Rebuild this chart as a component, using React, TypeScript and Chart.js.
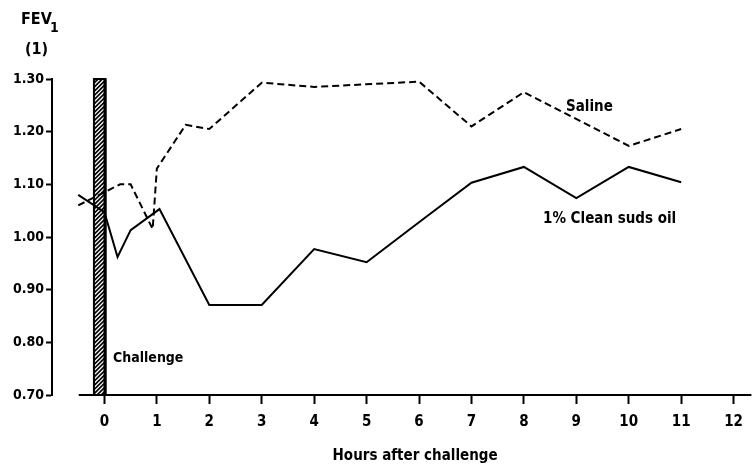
import React, { useEffect, useRef } from "react";
import { Chart, registerables } from "chart.js";

Chart.register(...registerables);

// ---- data ----
const hourTicks = [0, 1, 2, 3, 4, 5, 6, 7, 8, 9, 10, 11, 12];
const fevTicks = [0.7, 0.8, 0.9, 1.0, 1.1, 1.2, 1.3];

const salineHours = [-0.5, 0.3, 0.5, 0.92, 1.0, 1.55, 2.0, 3.0, 4.0, 6.0, 7.0, 8.0, 10.0, 11.0];
const salineFev = [1.06, 1.1, 1.1, 1.015, 1.13, 1.213, 1.205, 1.293, 1.285, 1.295, 1.21, 1.275, 1.173, 1.205];

const sudsHours = [-0.5, 0.0, 0.25, 0.5, 1.05, 2.0, 3.0, 4.0, 5.0, 6.0, 7.0, 8.0, 9.0, 10.0, 11.0];
const sudsFev = [1.08, 1.047, 0.962, 1.013, 1.053, 0.871, 0.871, 0.977, 0.952, 1.028, 1.103, 1.133, 1.074, 1.133, 1.104];

const challengeStart = -0.2;
const challengeEnd = 0.02;
const axisStartHour = -0.49;
const xMin = -1.0;
const xMax = 12.34;

const FONT = "'DejaVu Sans Condensed', 'DejaVu Sans', sans-serif";

const annotate = {
  id: "annotate",
  beforeDatasetsDraw(chart: any) {
    const { ctx, scales } = chart;
    const x = scales.x;
    const y = scales.y;
    const x0 = x.getPixelForValue(challengeStart);
    const x1 = x.getPixelForValue(challengeEnd);
    const top = y.getPixelForValue(1.3);
    const bot = y.getPixelForValue(0.7);
    ctx.save();
    ctx.fillStyle = "#fff";
    ctx.fillRect(x0, top, x1 - x0, bot - top);
    ctx.beginPath();
    ctx.rect(x0, top, x1 - x0, bot - top);
    ctx.clip();
    ctx.strokeStyle = "#000";
    ctx.lineWidth = 1.7;
    for (let yy = top - 20; yy < bot + 20; yy += 4.2) {
      ctx.beginPath();
      ctx.moveTo(x0, yy + (x1 - x0));
      ctx.lineTo(x1, yy);
      ctx.stroke();
    }
    ctx.restore();
    ctx.save();
    ctx.strokeStyle = "#000";
    ctx.lineWidth = 2;
    ctx.strokeRect(x0, top, x1 - x0, bot - top);
    ctx.lineWidth = 3;
    ctx.beginPath();
    ctx.moveTo(x1 - 0.5, top);
    ctx.lineTo(x1 - 0.5, bot);
    ctx.stroke();
    ctx.restore();
  },
  afterDraw(chart: any) {
    const { ctx, scales } = chart;
    const x = scales.x;
    const y = scales.y;
    const base = y.getPixelForValue(0.7);
    ctx.save();
    // x axis line
    ctx.strokeStyle = "#000";
    ctx.lineWidth = 2;
    ctx.beginPath();
    ctx.moveTo(x.getPixelForValue(axisStartHour), base);
    ctx.lineTo(x.getPixelForValue(xMax), base);
    ctx.stroke();

    ctx.fillStyle = "#000";
    ctx.textBaseline = "alphabetic";
    ctx.textAlign = "left";
    // y title
    ctx.font = `bold 16px ${FONT}`;
    ctx.fillText("FEV", 21, 24);
    ctx.font = `bold 14px ${FONT}`;
    ctx.fillText("1", 50, 32);
    ctx.font = `bold 16px ${FONT}`;
    ctx.fillText("(1)", 25, 54);

    ctx.font = `bold 14px ${FONT}`;
    ctx.fillText("Challenge", 113, 362);
    ctx.font = `bold 15px ${FONT}`;
    ctx.fillText("Saline", 566, 111);
    ctx.fillText("1% Clean suds oil", 543, 223);

    ctx.textAlign = "center";
    ctx.fillText("Hours after challenge", (x.getPixelForValue(axisStartHour) + x.getPixelForValue(xMax)) / 2, 460);
    ctx.restore();
  },
};

export default function App() {
  const ref = useRef<HTMLCanvasElement | null>(null);
  useEffect(() => {
    if (!ref.current) return;
    const chart = new Chart(ref.current, {
      type: "line",
      data: {
        datasets: [
          {
            label: "Saline",
            data: salineHours.map((h, i) => ({ x: h, y: salineFev[i] })),
            borderColor: "#000",
            borderWidth: 2,
            borderDash: [7, 4],
            pointRadius: 0,
            fill: false,
            tension: 0,
          },
          {
            label: "1% Clean suds oil",
            data: sudsHours.map((h, i) => ({ x: h, y: sudsFev[i] })),
            borderColor: "#000",
            borderWidth: 2,
            pointRadius: 0,
            fill: false,
            tension: 0,
          },
        ],
      },
      options: {
        responsive: false,
        animation: false,
        devicePixelRatio: 1,
        layout: { padding: { top: 79, right: 0, left: 0, bottom: 0 } },
        plugins: { legend: { display: false }, tooltip: { enabled: false }, title: { display: false } },
        scales: {
          x: {
            type: "linear",
            min: xMin,
            max: xMax,
            afterBuildTicks: (s: any) => {
              s.ticks = hourTicks.map((v) => ({ value: v }));
            },
            afterFit: (s: any) => {
              s.height = 69;
            },
            border: { display: false },
            grid: { drawOnChartArea: false, drawTicks: true, tickLength: 9, tickWidth: 2, tickColor: "#000" },
            ticks: {
              color: "#000",
              font: { family: FONT, weight: "bold", size: 15 },
              padding: 9,
              maxRotation: 0,
              autoSkip: false,
              callback: (v: any) => String(v),
            },
          },
          y: {
            type: "linear",
            min: 0.7,
            max: 1.3,
            afterBuildTicks: (s: any) => {
              s.ticks = fevTicks.map((v) => ({ value: v }));
            },
            afterFit: (s: any) => {
              s.width = 52;
            },
            border: { display: true, color: "#000", width: 2 },
            grid: { drawOnChartArea: false, drawTicks: true, tickLength: 6, tickWidth: 2, tickColor: "#000" },
            ticks: {
              color: "#000",
              font: { family: FONT, weight: "bold", size: 14 },
              padding: 2,
              autoSkip: false,
              callback: (v: any) => Number(v).toFixed(2),
            },
          },
        },
      },
      plugins: [annotate],
    } as any);
    return () => chart.destroy();
  }, []);
  return (
    <div style={{ position: "fixed", left: 0, top: 0, width: 752, height: 464, background: "#fff" }}>
      <canvas ref={ref} width={752} height={464} style={{ display: "block" }} />
    </div>
  );
}
